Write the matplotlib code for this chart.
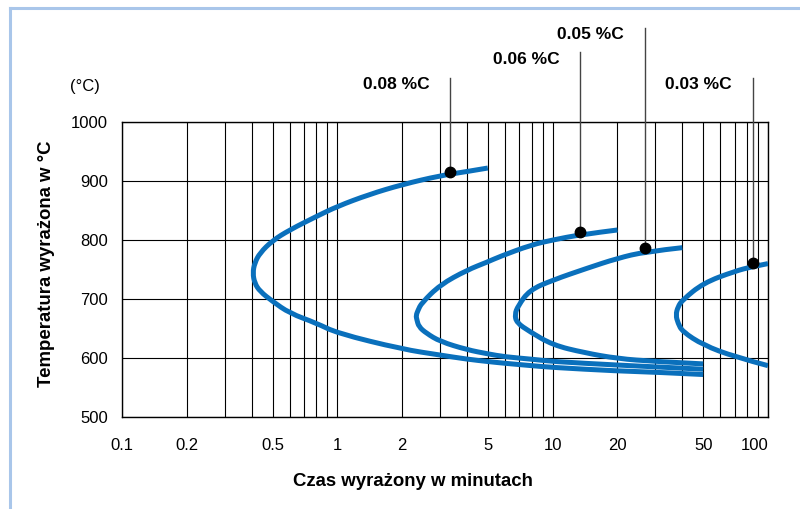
import numpy as np
import matplotlib.pyplot as plt
from matplotlib.lines import Line2D
from matplotlib.path import Path
from matplotlib.patches import PathPatch
from matplotlib.ticker import LogLocator, NullFormatter

plt.rcParams['font.family'] = ['Liberation Sans', 'DejaVu Sans']

# curves: (time in minutes, temperature in C)
c008_t = [5.0, 4.0, 3.0, 2.0, 1.4, 1.0, 0.8, 0.6, 0.5, 0.437, 0.413, 0.405,
          0.413, 0.437, 0.5, 0.6, 0.8, 1.0, 2.0, 3.0, 4.0, 5.0, 6.0, 8.0, 10, 20, 30, 50]
c008_T = [922, 916, 909, 894, 877, 857, 840, 817, 799, 778, 761, 744,
          727, 713, 696, 676, 659, 642, 615, 605, 598, 594, 591, 587, 584, 578, 576, 572]

c006_t = [20, 13.4, 10, 8.0, 5.68, 5.0, 4.0, 3.0, 2.46, 2.37, 2.32, 2.34, 2.39,
          2.59, 3.0, 4.0, 5.0, 6.0, 8.0, 10, 20, 30, 50]
c006_T = [817, 809, 800, 792, 772, 763, 749, 724, 693, 681, 672, 665, 653,
          642, 628, 614, 607, 602, 598, 594, 588, 585, 581]

c005_t = [40, 26.8, 20, 14.4, 10, 7.8, 6.9, 6.67, 6.8, 7.8, 10, 14, 20, 30, 50]
c005_T = [787, 780, 769, 752, 732, 715, 688, 674, 660, 645, 622, 609, 599, 594, 590]

c003_t = [100, 84.8, 70, 50, 40, 38.2, 37.3, 38.2, 40, 50, 70, 100]
c003_T = [760, 755, 747, 727, 698, 687, 673, 659, 645, 622, 602, 587]

# marker dots and their labels
labels = ['0.08 %C', '0.06 %C', '0.05 %C', '0.03 %C']
dot_t = [3.35, 13.4, 26.8, 84.8]
dot_T = [916, 814, 786, 761]
line_top = [1075, 1118, 1160, 1075]

xticks = [0.1, 0.2, 0.5, 1, 2, 5, 10, 20, 50, 100]
xticklabels = ['0.1', '0.2', '0.5', '1', '2', '5', '10', '20', '50', '100']
yticks = [500, 600, 700, 800, 900, 1000]

blue = '#0a70bc'


def smooth_path(t, T):
    # read points used as quadratic bezier control points, curve passes
    # through the midpoints (geometric mean in x because of the log axis)
    t = np.asarray(t, float)
    T = np.asarray(T, float)
    verts = [(t[0], T[0])]
    codes = [Path.MOVETO]
    for i in range(1, len(t) - 1):
        mid = (np.sqrt(t[i] * t[i + 1]), (T[i] + T[i + 1]) / 2)
        if i == len(t) - 2:
            mid = (t[-1], T[-1])
        verts += [(t[i], T[i]), mid]
        codes += [Path.CURVE3, Path.CURVE3]
    return Path(verts, codes)


fig = plt.figure(figsize=(8, 5.09), dpi=100)
ax = fig.add_axes([122/800, 1 - 417/509, 646/800, 295/509])

ax.set_xscale('log')
ax.set_xlim(0.1, 100)
ax.set_ylim(500, 1000)

for t, T in [(c008_t, c008_T), (c006_t, c006_T), (c005_t, c005_T), (c003_t, c003_T)]:
    ax.add_patch(PathPatch(smooth_path(t, T), facecolor='none', edgecolor=blue,
                           lw=3.6, capstyle='butt', zorder=3))

for lab, x, y, top in zip(labels, dot_t, dot_T, line_top):
    ax.plot([x, x], [y, top], color='#444444', lw=1.0, clip_on=False, zorder=4)
    ax.plot(x, y, 'o', color='black', ms=7.5, zorder=5)
    ax.annotate(lab, xy=(x, top - 12), xytext=(-15, 0), textcoords='offset points',
                ha='right', va='center', fontsize=12.5, fontweight='bold',
                annotation_clip=False)

ax.set_xticks(xticks)
ax.set_xticklabels(xticklabels)
ax.xaxis.set_minor_locator(LogLocator(base=10, subs=range(1, 10)))
ax.xaxis.set_minor_formatter(NullFormatter())
ax.set_yticks(yticks)
ax.tick_params(axis='both', which='both', length=0, labelsize=12)
ax.tick_params(axis='x', pad=15)
ax.tick_params(axis='y', pad=10)
ax.get_xticklabels()[-1].set_ha('right')
ax.grid(True, which='both', color='black', lw=0.8)
ax.set_axisbelow(True)
for s in ax.spines.values():
    s.set_color('black')
    s.set_linewidth(1.0)

fig.text(85/800, 1 - 87/509, '(°C)', ha='center', va='center', fontsize=12)
fig.text(47/800, 1 - 264/509, 'Temperatura wyrażona w °C', rotation=90,
         ha='center', va='center', fontsize=13.4, fontweight='bold')
fig.text(413/800, 1 - 482/509, 'Czas wyrażony w minutach',
         ha='center', va='center', fontsize=13.4, fontweight='bold')

# light blue frame on the left and top
frame = '#a9c6ea'
fig.add_artist(Line2D([10/800, 10/800], [0, 1 - 8/509], color=frame, lw=2.2))
fig.add_artist(Line2D([10/800, 1], [1 - 8/509, 1 - 8/509], color=frame, lw=2.2))

fig.savefig('out.png', dpi=100)
